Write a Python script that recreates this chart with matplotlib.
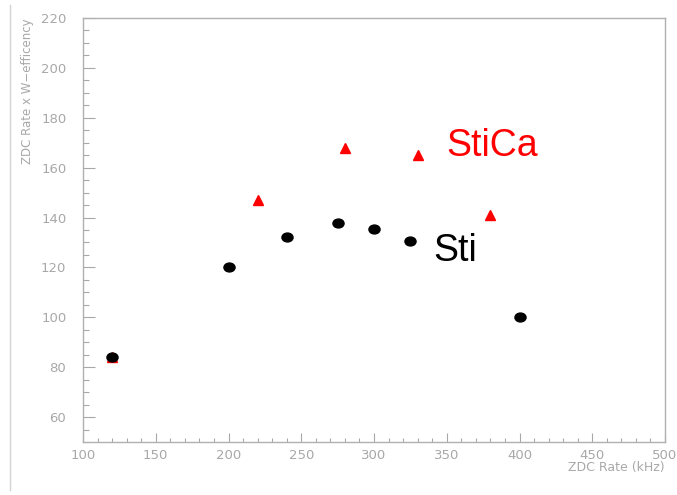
import matplotlib
matplotlib.use("Agg")
import matplotlib.pyplot as plt
from matplotlib.ticker import MultipleLocator
from matplotlib.lines import Line2D
from matplotlib.path import Path
from matplotlib.transforms import Affine2D

# data
sti_x = [120, 200, 240, 275, 300, 325, 400]
sti_y = [84, 120, 132, 138, 135.5, 130.5, 100]
stica_x = [120, 220, 280, 330, 380]
stica_y = [84, 147, 168, 165, 141]

grey = "#a8a8a8"

# the dots are slightly wider than tall
oval = Path.unit_circle().transformed(Affine2D().scale(1.25, 1.0))

fig = plt.figure(figsize=(6.77, 4.95), dpi=100)
ax = fig.add_axes([83 / 677, 1 - 442 / 495, (665 - 83) / 677, (442 - 18) / 495])

ax.plot(stica_x, stica_y, linestyle="none", marker="^", color="red", markersize=7)
ax.plot(sti_x, sti_y, linestyle="none", marker=oval, color="black", markersize=8)

ax.text(350, 168.5, "StiCa", color="red", fontsize=27, family="Liberation Sans", va="center")
ax.text(340.5, 126.5, "Sti", color="black", fontsize=27, family="Liberation Sans", va="center")

ax.set_xlim(100, 500)
ax.set_ylim(50, 220)
ax.xaxis.set_major_locator(MultipleLocator(50))
ax.xaxis.set_minor_locator(MultipleLocator(10))
ax.yaxis.set_major_locator(MultipleLocator(20))
ax.yaxis.set_minor_locator(MultipleLocator(5))

for s in ax.spines.values():
    s.set_color("#b0b0b0")
    s.set_linewidth(1.0)

ax.tick_params(axis="x", which="major", direction="in", length=6.5, width=0.8,
               color=grey, labelcolor=grey, labelsize=9.5, pad=5)
ax.tick_params(axis="x", which="minor", direction="in", length=3, width=0.8, color=grey)
ax.tick_params(axis="y", which="major", direction="in", length=8.5, width=0.8,
               color=grey, labelcolor=grey, labelsize=9.5, pad=12)
ax.tick_params(axis="y", which="minor", direction="in", length=4.3, width=0.8, color=grey)

fig.text(665 / 677, 1 - 467 / 495, "ZDC Rate (kHz)", color=grey, fontsize=9,
         ha="right", va="center")
fig.text(28 / 677, 1 - 18 / 495, "ZDC Rate x W\u2212efficency", color=grey, fontsize=8.5,
         rotation=90, ha="center", va="top")

fig.add_artist(Line2D([10 / 677, 10 / 677], [0.01, 0.99], transform=fig.transFigure,
                      color="#d4d4d4", linewidth=1))

fig.savefig("out.png", dpi=100)
